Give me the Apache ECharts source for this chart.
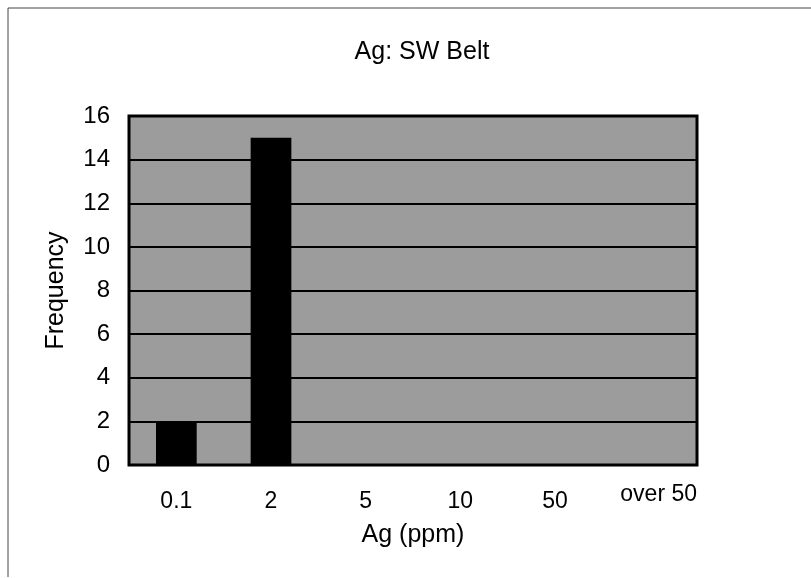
<!DOCTYPE html>
<html><head><meta charset="utf-8">
<script src="https://cdn.jsdelivr.net/npm/echarts@6/dist/echarts.min.js"></script>
<style>html,body{margin:0;padding:0;background:#fff}#c{width:811px;height:578px}</style>
</head><body><div id="c"></div>
<script>
const categories = ['0.1', '2', '5', '10', '50', 'over 50'];
const frequency = [2, 15, 0, 0, 0, 0];
const yTicks = [0, 2, 4, 6, 8, 10, 12, 14, 16];

const FF = 'Liberation Sans';
const chart = echarts.init(document.getElementById('c'));
chart.setOption({
  animation: false,
  backgroundColor: '#fff',
  title: {
    text: 'Ag: SW Belt', left: 417, top: 35, textAlign: 'center',
    textStyle: {fontFamily: FF, fontSize: 25, fontWeight: 'normal', color: '#000'}
  },
  graphic: [{
    type: 'polyline', shape: {points: [[8, 577], [8, 8], [811, 8]]},
    style: {stroke: '#444', lineWidth: 1, fill: null}
  }],
  grid: {left: 129, right: 114, top: 116, bottom: 113,
         show: true, backgroundColor: '#9c9c9c', borderColor: '#000', borderWidth: 3},
  xAxis: {
    type: 'category', data: categories,
    name: 'Ag (ppm)', nameLocation: 'middle', nameGap: 58,
    nameTextStyle: {fontFamily: FF, fontSize: 25, color: '#000', verticalAlign: 'top'},
    axisLine: {show: true, lineStyle: {color: '#000', width: 2}},
    axisTick: {show: false},
    axisLabel: {
      interval: 0, margin: 12,
      fontFamily: FF, fontSize: 23, color: '#000',
      formatter: v => v === 'over 50' ? '{o|' + v + '}' : '{n|' + v + '}',
      rich: {
        n: {fontFamily: FF, fontSize: 23, color: '#000', padding: [13, 0, 0, 0]},
        o: {fontFamily: FF, fontSize: 23, color: '#000', padding: [6, 0, 0, 18]}
      }
    }
  },
  yAxis: {
    type: 'value', min: yTicks[0], max: yTicks[yTicks.length - 1], interval: 2,
    name: 'Frequency', nameLocation: 'middle', nameGap: 60,
    nameTextStyle: {fontFamily: FF, fontSize: 25, color: '#000'},
    axisLine: {show: false}, axisTick: {show: false},
    axisLabel: {fontFamily: FF, fontSize: 24, color: '#000', margin: 19},
    splitLine: {lineStyle: {color: '#000', width: 2}}
  },
  series: [{
    type: 'bar', data: frequency, barWidth: '43%',
    itemStyle: {color: '#000'}
  }]
});
</script></body></html>
